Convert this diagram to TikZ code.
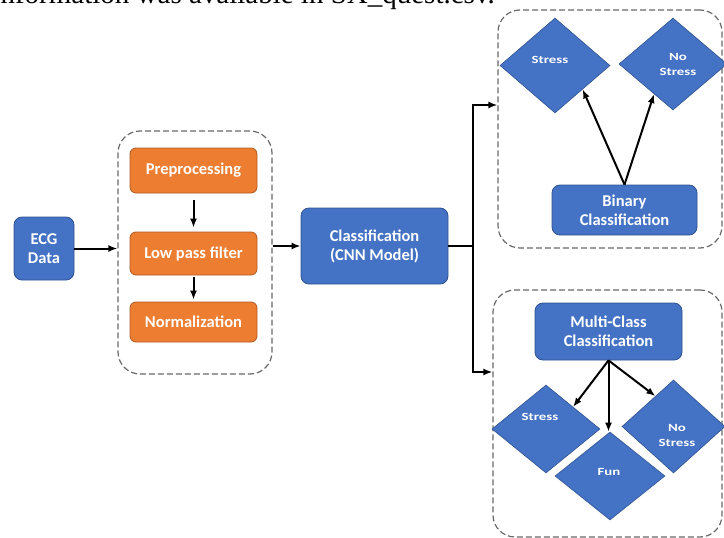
\documentclass[tikz,border=0pt]{standalone}
\usepackage{fontspec}
\usepackage{graphicx}
\setmainfont{Carlito}
\newfontfamily\docfont{Liberation Serif}
\usetikzlibrary{positioning}
\usetikzlibrary{shapes}
\usetikzlibrary{calc}
\usetikzlibrary{arrows.meta}

\definecolor{boxblue}{RGB}{68,114,196}
\definecolor{boxblueline}{RGB}{47,82,143}
\definecolor{boxorange}{RGB}{237,125,49}
\definecolor{boxorangeline}{RGB}{174,90,33}
\definecolor{groupgray}{RGB}{105,105,105}

\newcommand{\widetext}[1]{\scalebox{1.35}[1]{#1}}

\begin{document}
\begin{tikzpicture}[x=1pt,y=1pt,yscale=-1,xscale=1,
  bluebox/.style={draw=boxblueline, fill=boxblue, line width=0.8pt, rounded corners=8pt, text=white, font=\bfseries\fontsize{16.5}{19}\selectfont, align=center, inner sep=0pt},
  orangebox/.style={draw=boxorangeline, fill=boxorange, line width=0.8pt, rounded corners=6pt, text=white, font=\bfseries\fontsize{16.5}{19}\selectfont, align=center, inner sep=0pt, minimum width=127pt},
  group/.style={draw=groupgray, dash pattern=on 6pt off 3pt, line width=1.2pt, rounded corners=22pt, inner sep=0pt},
  decision/.style={diamond, draw=boxblueline, fill=boxblue, line width=0.6pt, inner sep=0pt},
  decisiontext/.style={text=white, font=\bfseries\fontsize{11}{15}\selectfont, align=center, inner sep=0pt},
  flow/.style={-{Latex[length=9pt,width=7pt]}, line width=2pt}]
\useasboundingbox (0,0) rectangle (724,538);

% Text Node
\node [anchor=base east, inner sep=0pt, font=\docfont\fontsize{29}{34}\selectfont] (doctext) at (495,3) {information was available in SX\_quest.csv.};

% Dashed groups
\node [group, minimum width=154pt, minimum height=243pt] (prepgrp) at (195,252.5) {};
\node [group, minimum width=224pt, minimum height=238pt] (bingrp) at (610,129) {};
\node [group, minimum width=229pt, minimum height=247pt] (multigrp) at (607.5,413.5) {};

% Input and preprocessing
\node [bluebox, minimum width=60pt, minimum height=63pt] (ecg) at (44,248.5) {ECG\\Data};
\node [orangebox, minimum height=45pt] (prep) at (193.5,170.5) {Preprocessing};
\node [orangebox, minimum height=43pt] (lowpass) at (193.5,253.5) {Low pass filter};
\node [orangebox, minimum height=40pt] (norm) at (193.5,322) {Normalization};

% Classifier
\node [bluebox, minimum width=147pt, minimum height=76pt] (cnn) at (374.5,246) {Classification\\(CNN Model)};
\coordinate (branch) at (473,246);

% Binary classification
\node [decision, minimum width=110pt, minimum height=95pt] (bstress) at (555,65.5) {};
\node [decision, minimum width=108pt, minimum height=92pt] (bnostress) at (673,64) {};
\node [decisiontext] at (550,60) {\widetext{Stress}};
\node [decisiontext] at (678,64) {\widetext{No}\\\widetext{Stress}};
\node [bluebox, minimum width=145pt, minimum height=50pt] (binary) at (624.5,210) {Binary\\Classification};

% Multi-class classification
\node [bluebox, minimum width=147pt, minimum height=57pt] (multi) at (608.5,331.5) {Multi-Class\\Classification};
\node [decision, minimum width=108pt, minimum height=88pt] (mstress) at (546,429) {};
\node [decision, minimum width=103pt, minimum height=93pt] (mnostress) at (673.5,426.5) {};
\node [decision, minimum width=110pt, minimum height=88pt] (mfun) at (610,476) {};
\node [decisiontext] at (540,417) {\widetext{Stress}};
\node [decisiontext] at (609,472) {\widetext{Fun}};
\node [decisiontext] at (677,435) {\widetext{No}\\\widetext{Stress}};

% Connections
\draw [flow] (ecg) -- (ecg -| prepgrp.west);
\draw [flow, shorten <=7pt, shorten >=4pt] (prep) -- (lowpass);
\draw [flow, shorten <=2pt, shorten >=2pt] (lowpass) -- (norm);
\draw [flow] (prepgrp.east |- cnn.west) -- (cnn.west);
\draw [line width=2pt] (cnn.east) -- (branch);
\draw [flow] (branch) |- (bingrp.west |- 0,105);
\draw [flow] (branch) |- (multigrp.west |- 0,372);
\draw [flow] (binary.north) -- ($(bstress.south)!0.5!(bstress.east)$);
\draw [flow] (binary.north) -- ($(bnostress.south)!0.35!(bnostress.west)$);
\draw [flow] (multi.south) -- ($(mstress.north)!0.5!(mstress.east)$);
\draw [flow] (multi.south) -- (multi.south |- mfun.north);
\draw [flow] (multi.south) -- ($(mnostress.north)!0.35!(mnostress.west)$);

\end{tikzpicture}
\end{document}
